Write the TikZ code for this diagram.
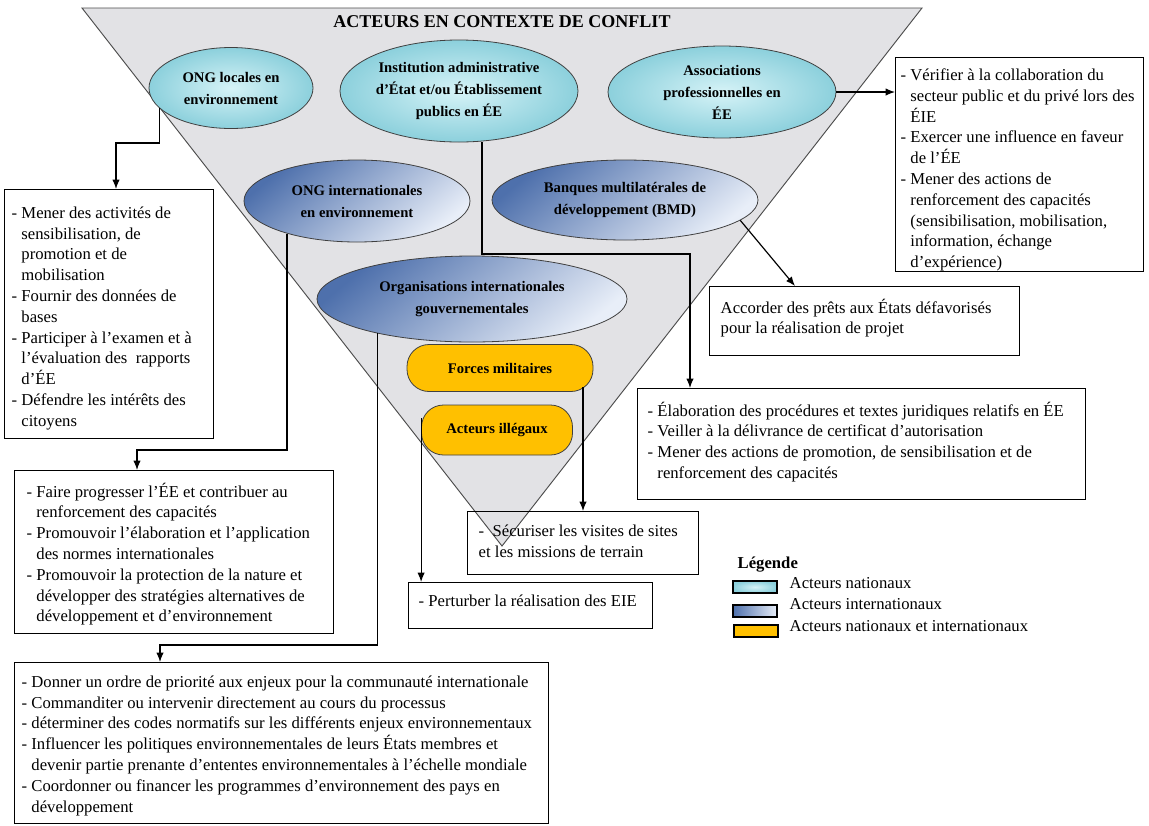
\documentclass[tikz,border=0pt]{standalone}
\usepackage{fontspec}
\setmainfont{Liberation Serif}
\usetikzlibrary{arrows.meta}
\usetikzlibrary{positioning}
\usetikzlibrary{shapes.geometric}
\usetikzlibrary{calc}

\definecolor{marble}{RGB}{226,226,229}
\definecolor{natin}{RGB}{214,243,247}
\definecolor{natout}{RGB}{140,208,220}
\definecolor{intdark}{RGB}{78,112,172}
\definecolor{intlight}{RGB}{232,238,248}
\definecolor{mixfill}{RGB}{255,192,0}

\newlength\px \setlength\px{0.75pt}
\newlength\dashw
\newcommand{\bodyfont}{\fontsize{12.5pt}{15.6pt}\selectfont}
\newcommand{\ellfont}{\fontsize{11pt}{16.5pt}\selectfont\bfseries}
\newcommand{\litem}{\par\noindent\settowidth{\dashw}{-~}\hangindent=\dashw\hangafter=1 -~}
\newcommand{\notetext}[3]{\parbox[t][#2\px][t]{#1\px}{\bodyfont\parindent=0pt\parskip=0pt\rightskip=0pt plus 1fil #3}}

\begin{document}
\begin{tikzpicture}[x=0.75pt,y=0.75pt,yscale=-1,xscale=1,
  natact/.style={ellipse, draw=black!75, line width=0.6pt, inner xsep=-30\px, inner ysep=-8\px, align=center, font=\ellfont, inner color=natin, outer color=natout},
  intact/.style={ellipse, draw=black!75, line width=0.6pt, inner xsep=-30\px, inner ysep=-8\px, align=center, font=\ellfont, top color=intdark, bottom color=intlight, shading angle=40},
  mixact/.style={rectangle, rounded corners=22\px, draw=black!75, line width=0.6pt, fill=mixfill, font=\ellfont},
  note/.style={draw, line width=1.1pt, anchor=north west, inner xsep=9\px, inner ysep=8\px},
  link/.style={line width=0.9pt, -{Latex[length=7pt,width=5.5pt]}},
  swatch/.style={draw, line width=1pt, minimum width=44\px, minimum height=12\px, inner sep=0pt}]
\useasboundingbox (0,0) rectangle (1149,825);

%Shape: Triangle
\draw [draw=black!70, line width=0.7pt, fill=marble] (82,8) -- (922,8) -- (502,546) -- cycle;

% Text Node
\node [font=\fontsize{13.5pt}{15pt}\selectfont\bfseries] (title) at (502,22) {ACTEURS EN CONTEXTE DE CONFLIT};

%Shape: Ellipse
\node [natact, minimum width=164\px, minimum height=81\px] (ongloc) at (231,88) {ONG locales en\\environnement};
\node [natact, minimum width=238\px, minimum height=102\px] (instadm) at (459,91) {Institution administrative\\d’État et/ou Établissement\\publics en ÉE};
\node [natact, minimum width=228\px, minimum height=92\px] (assopro) at (722,92) {Associations\\professionnelles en\\ÉE};
\node [intact, minimum width=226\px, minimum height=82\px] (ongint) at (357,201) {ONG internationales\\en environnement};
\node [intact, minimum width=266\px, minimum height=80\px] (bmd) at (625,200) {Banques multilatérales de\\développement (BMD)};
\node [intact, minimum width=310\px, minimum height=86\px] (orgint) at (472,299) {Organisations internationales\\gouvernementales};

%Shape: Rounded Rect
\node [mixact, minimum width=186\px, minimum height=47\px] (forcmil) at (500,368) {Forces militaires};
\node [mixact, minimum width=151\px, minimum height=50\px] (acteill) at (497,430) {Acteurs illégaux};

%Shape: Rectangle
\node [note, inner xsep=7\px, inner ysep=17\px] (noteongloc) at (4,189) {\notetext{195}{215}{%
\litem Mener des activités de\\sensibilisation, de\\promotion et de\\mobilisation
\litem Fournir des données de\\bases
\litem Participer à l’examen et à\\l’évaluation des~ rapports\\d’ÉE
\litem Défendre les intérêts des\\citoyens}};
\node [note, inner xsep=5\px, inner ysep=11\px] (noteasso) at (895,57) {\notetext{238}{192}{%
\litem Vérifier à la collaboration du\\secteur public et du privé lors des\\ÉIE
\litem Exercer une influence en faveur\\de l’ÉE
\litem Mener des actions de\\renforcement des capacités\\(sensibilisation, mobilisation,\\information, échange\\d’expérience)}};
\node [note, inner xsep=11\px, inner ysep=12\px] (notebmd) at (709,286) {\notetext{288}{45}{%
Accorder des prêts aux États défavorisés\\pour la réalisation de projet}};
\node [note, inner xsep=10\px, inner ysep=13\px] (noteinst) at (637,388) {\notetext{428}{85}{%
\litem Élaboration des procédures et textes juridiques relatifs en ÉE
\litem Veiller à la délivrance de certificat d’autorisation
\litem Mener des actions de promotion, de sensibilisation et de\\renforcement des capacités}};
\node [note, inner xsep=12\px, inner ysep=12\px] (noteongint) at (14,470) {\notetext{295}{139}{%
\litem Faire progresser l’ÉE et contribuer au\\renforcement des capacités
\litem Promouvoir l’élaboration et l’application\\des normes internationales
\litem Promouvoir la protection de la nature et\\développer des stratégies alternatives de\\développement et d’environnement}};
\node [note, inner xsep=11\px, inner ysep=13\px] (notefor) at (467,511) {\notetext{209}{37}{%
-~ Sécuriser les visites de sites\\et les missions de terrain}};
\node [note, inner xsep=10\px, inner ysep=12\px] (noteill) at (408,582) {\notetext{224}{22}{%
- Perturber la réalisation des EIE}};
\node [note, inner xsep=7\px, inner ysep=13\px] (noteorgint) at (14,662) {\notetext{520}{135}{%
\litem Donner un ordre de priorité aux enjeux pour la communauté internationale
\litem Commanditer ou intervenir directement au cours du processus
\litem déterminer des codes normatifs sur les différents enjeux environnementaux
\litem Influencer les politiques environnementales de leurs États membres et\\devenir partie prenante d’ententes environnementales à l’échelle mondiale
\litem Coordonner ou financer les programmes d’environnement des pays en\\développement}};

%Straight Lines
\coordinate (k1) at (116,143);
\draw [link] (ongloc.196) |- (k1) -- (k1 |- noteongloc.north);
\coordinate (k2) at (482,254);
\coordinate (k3) at (690,254);
\draw [link] (k2 |- instadm.south) -- (k2) -- (k3) -- (k3 |- noteinst.north);
\draw [link] (assopro.east) -- (assopro.east -| noteasso.west);
\coordinate (k4) at (137,450);
\draw [link] (ongint.205) |- (k4) -- (k4 |- noteongint.north);
\coordinate (k5) at (795,0);
\draw [link] (bmd.-10) -- (k5 |- notebmd.north);
\coordinate (k6) at (160,645);
\draw [link] (orgint.200) |- (k6) -- (k6 |- noteorgint.north);
\coordinate (k7) at (583,387);
\draw [link] (k7) -- (k7 |- notefor.north);
\coordinate (k8) at ([yshift=-12\px]acteill.west);
\draw [link] (k8) -- (k8 |- noteill.north);

% Text Node
\node [anchor=west, font=\bodyfont\bfseries] (legtitle) at (733,565) {Légende};
\node [swatch, inner color=natin, outer color=natout] (swnat) at (755,587) {};
\node [swatch, left color=intdark, right color=intlight] (swint) at (755,611) {};
\node [swatch, fill=mixfill] (swmix) at (756,631) {};
\node [anchor=west, font=\bodyfont] (lgnat) at (785,583) {Acteurs nationaux};
\node [anchor=west, font=\bodyfont] (lgint) at (785,604) {Acteurs internationaux};
\node [anchor=west, font=\bodyfont] (lgmix) at (785,626) {Acteurs nationaux et internationaux};

\end{tikzpicture}
\end{document}
